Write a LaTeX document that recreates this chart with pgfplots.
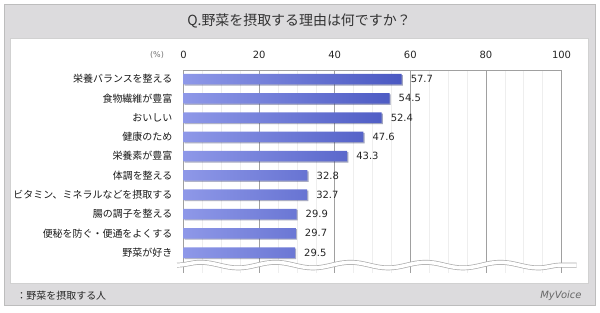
\documentclass[border=0pt]{standalone}
\usepackage{pgfplots}
\pgfplotsset{compat=1.18}
\usepackage{fontspec}
\setmainfont{DejaVu Sans}
\newfontfamily\jp{Noto Sans CJK JP}
\usetikzlibrary{decorations.pathmorphing,shadows}
\definecolor{framegray}{HTML}{DCDBDD}
\definecolor{frameline}{HTML}{BDBDBD}
\definecolor{barL}{HTML}{8E98E8}
\definecolor{barR}{HTML}{4A58C2}
\definecolor{gridmaj}{HTML}{A0A0A0}
\definecolor{gridmin}{HTML}{EEEEEE}
\begin{document}
\begin{tikzpicture}[x=1bp,y=1bp]
% canvas
\fill[white] (0,0) rectangle (600,312);
\filldraw[fill=framegray, draw=frameline, line width=0.8bp] (4,7) rectangle (595,308);
\filldraw[fill=white, draw=frameline!70, line width=0.6bp] (10,29) rectangle (588,274);
\node[font=\jp\fontsize{14}{16}\selectfont, text=black!80] at (299,291) {Q.野菜を摂取する理由は何ですか？};
\node[font=\fontsize{8}{10}\selectfont, text=black!55] at (157,257) {(\%)};
\node[anchor=west, font=\jp\fontsize{10}{12}\selectfont, text=black!85] at (13,16) {：野菜を摂取する人};
\node[anchor=east, font=\fontsize{10}{12}\selectfont, text=black!60] at (585,16) {\textit{MyVoice}};
\begin{axis}[
  at={(183.5bp,39bp)}, anchor=south west,
  scale only axis, width=378bp, height=203bp,
  xmin=0, xmax=100, ymin=-0.47, ymax=10.06,
  y dir=reverse,
  axis line style={draw=none},
  xtick={0,20,...,100},
  minor x tick num=3,
  xmajorgrids, xminorgrids,
  major grid style={gridmaj, line width=0.6bp},
  minor grid style={gridmin, line width=0.5bp},
  xticklabel pos=right,
  major tick length=0pt, minor tick length=0pt,
  tick style={draw=none},
  xticklabel style={font=\fontsize{10}{12}\selectfont, inner sep=0pt, yshift=11bp, text=black!85},
  ytick={0,...,9},
  yticklabels={栄養バランスを整える,食物繊維が豊富,おいしい,健康のため,栄養素が豊富,体調を整える,ビタミン、ミネラルなどを摂取する,腸の調子を整える,便秘を防ぐ・便通をよくする,野菜が好き},
  yticklabel style={font=\jp\fontsize{10}{12}\selectfont, inner sep=0pt, xshift=-11bp, text=black!90},
  /pgf/number format/assume math mode=true,
  xbar, bar width=10.5bp,
  nodes near coords={\pgfmathprintnumber[fixed,fixed zerofill,precision=1,assume math mode=true]{\pgfplotspointmeta}},
  nodes near coords style={font=\fontsize{10}{12}\selectfont, anchor=west, inner sep=0pt, xshift=9bp, text=black!85},
  clip=false,
]
\addplot[draw=none, left color=barL, right color=barR,
  drop shadow={shadow xshift=1.2bp, shadow yshift=-1.2bp, fill=black, opacity=0.25}]
  coordinates {(57.7,0) (54.5,1) (52.4,2) (47.6,3) (43.3,4) (32.8,5) (32.7,6) (29.9,7) (29.7,8) (29.5,9)};
\draw[draw=gray!65, line width=0.7bp, double=white, double distance=3.5bp,
  decorate, decoration={snake, amplitude=2.8bp, segment length=75bp}]
  (axis cs:-1.7,9.65) -- (axis cs:104,9.65);
\draw[gridmaj, line width=0.6bp] (axis description cs:0,1) -- (axis description cs:1,1);
\end{axis}
\end{tikzpicture}
\end{document}
